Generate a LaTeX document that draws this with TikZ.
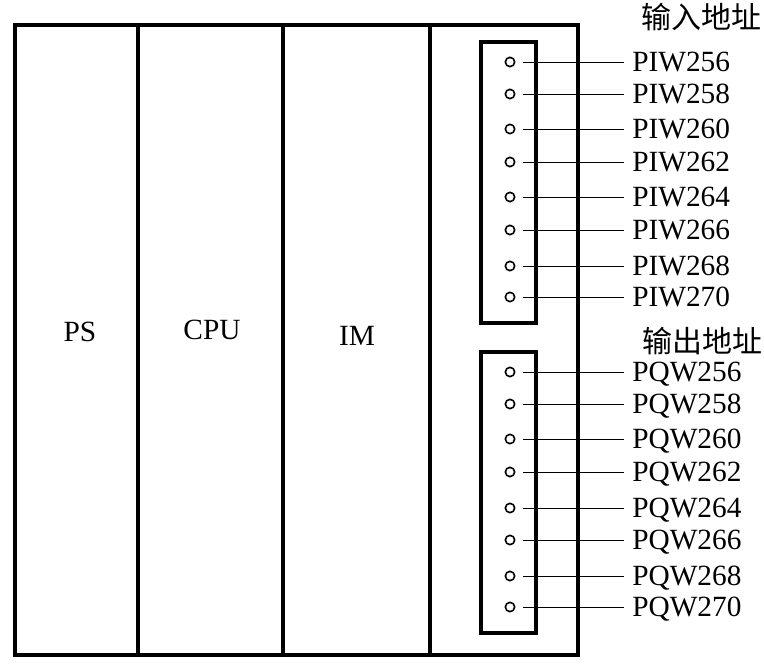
\documentclass[tikz,border=0pt]{standalone}
\usepackage{fontspec}
\setmainfont{Liberation Serif}
\newfontfamily\cjk{Noto Sans CJK SC}
\begin{document}
\begin{tikzpicture}[x=0.75pt,y=-0.75pt,font=\fontsize{22}{25}\selectfont,
 frame/.style={line width=2.3pt},
 pin/.style={circle,draw,line width=1.2pt,minimum size=7pt,inner sep=0pt},
 addr/.style={anchor=west,inner sep=6pt,text height=14.5pt,text depth=0pt},
 title/.style={font=\fontsize{22.5}{26}\selectfont\cjk}]
\useasboundingbox(0,0)rectangle(764,666);
\draw[frame](15,25)rectangle(578,655);
\foreach \x in {138,283,430}{\draw[frame](\x,25)--(\x,655);}
\node(ps)at(80,332){PS};
\node(cpu)at(212,330){CPU};
\node(im)at(357,336){IM};
\draw[frame](481,42)rectangle(536,323);
\draw[frame](481,352)rectangle(536,633);
\node[title](intitle)at(701,17){输入地址};
\node[title](outtitle)at(702,341){输出地址};
\foreach \n/\y in {256/62,258/94,260/129,262/162,264/197,266/230,268/266,270/297}
{\node[pin](i\n)at(510,\y){};\node[addr](li\n)at(624,\y){PIW\n};
\draw([xshift=6pt]i\n.east)--(li\n.west);}
\foreach \n/\y in {256/372,258/404,260/439,262/472,264/508,266/540,268/576,270/607}
{\node[pin](q\n)at(510,\y){};\node[addr](lq\n)at(624,\y){PQW\n};
\draw([xshift=6pt]q\n.east)--(lq\n.west);}
\end{tikzpicture}
\end{document}
